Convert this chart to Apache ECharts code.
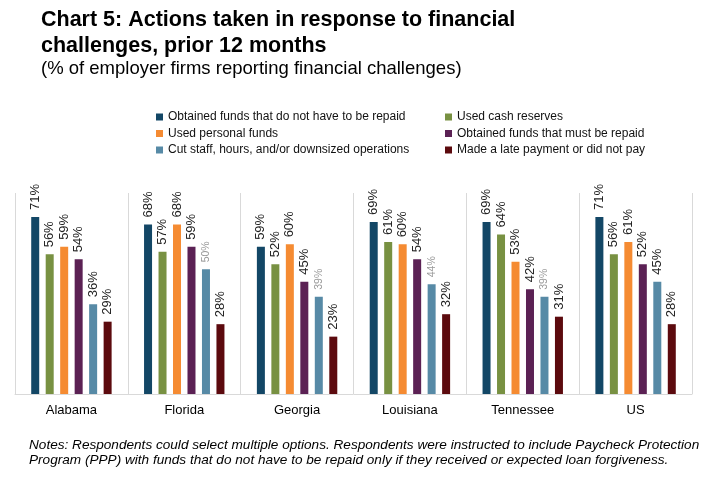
<!DOCTYPE html>
<html>
<head>
<meta charset="utf-8">
<title>Chart 5</title>
<script src="https://cdn.jsdelivr.net/npm/echarts@6/dist/echarts.min.js"></script>
<style>
  html, body { margin: 0; padding: 0; background: #fff; }
  #chart { width: 712px; height: 479px; }
</style>
</head>
<body>
<div id="chart"></div>
<script>
const states = ['Alabama', 'Florida', 'Georgia', 'Louisiana', 'Tennessee', 'US']

const seriesNames = [
  'Obtained funds that do not have to be repaid',
  'Used cash reserves',
  'Used personal funds',
  'Obtained funds that must be repaid',
  'Cut staff, hours, and/or downsized operations',
  'Made a late payment or did not pay'
]

const fundsNotRepaid = [71, 68, 59, 69, 69, 71]
const cashReserves = [56, 57, 52, 61, 64, 56]
const personalFunds = [59, 68, 60, 60, 53, 61]
const fundsRepaid = [54, 59, 45, 54, 42, 52]
const cutStaff = [36, 50, 39, 44, 39, 45]
const latePayment = [29, 28, 23, 32, 31, 28]

// labels shown small and grey in the original
const mutedCutStaff = ['Florida', 'Georgia', 'Louisiana', 'Tennessee']

const colors = ['#134766', '#789142', '#f58b32', '#5b2154', '#578aa6', '#5c0a0e']
const font = 'Liberation Sans, Arial, sans-serif'

const chart = echarts.init(document.getElementById('chart'))

const values = [fundsNotRepaid, cashReserves, personalFunds, fundsRepaid, cutStaff, latePayment]

const series = values.map((vals, i) => ({
  name: seriesNames[i],
  type: 'bar',
  barWidth: 8,
  barGap: '81%',
  itemStyle: { color: colors[i] },
  label: {
    show: true,
    position: 'top',
    rotate: 90,
    align: 'left',
    verticalAlign: 'middle',
    distance: 7,
    fontFamily: font,
    fontSize: 13,
    color: '#222',
    formatter: '{c}%'
  },
  data: vals.map((v, j) => {
    if (i === 4 && mutedCutStaff.includes(states[j])) {
      return { value: v, label: { fontSize: 10.5, color: '#999' } }
    }
    return v
  })
}))

const legendBase = {
  orient: 'vertical',
  icon: 'rect',
  padding: 0,
  itemWidth: 7,
  itemHeight: 7,
  itemGap: 2.5,
  top: 110,
  textStyle: { fontFamily: font, fontSize: 12, color: '#111', lineHeight: 14 },
  selectedMode: false
}

chart.setOption({
  animation: false,
  color: colors,
  title: [
    {
      text: 'Chart 5: Actions taken in response to financial\nchallenges, prior 12 months',
      left: 41,
      top: 7,
      padding: 0,
      textStyle: { fontFamily: font, fontSize: 21.5, fontWeight: 'bold', color: '#000', lineHeight: 26 }
    },
    {
      text: '(% of employer firms reporting financial challenges)',
      left: 41,
      top: 59,
      padding: 0,
      textStyle: { fontFamily: font, fontSize: 18.5, fontWeight: 'normal', color: '#000', lineHeight: 20 }
    },
    {
      text: 'Notes: Respondents could select multiple options. Respondents were instructed to include Paycheck Protection\nProgram (PPP) with funds that do not have to be repaid only if they received or expected loan forgiveness.',
      left: 29,
      top: 438,
      padding: 0,
      textStyle: { fontFamily: font, fontSize: 13.6, fontStyle: 'italic', fontWeight: 'normal', color: '#000', lineHeight: 15 }
    }
  ],
  legend: [
    Object.assign({}, legendBase, { left: 156, data: [seriesNames[0], seriesNames[2], seriesNames[4]] }),
    Object.assign({}, legendBase, { left: 445, data: [seriesNames[1], seriesNames[3], seriesNames[5]] })
  ],
  grid: { left: 15, right: 20, top: 193, bottom: 85 },
  xAxis: {
    type: 'category',
    data: states,
    axisLine: { lineStyle: { color: '#d9d9d9', width: 1 } },
    axisTick: { show: false },
    splitLine: { show: true, lineStyle: { color: '#d9d9d9', width: 1 } },
    axisLabel: { fontFamily: font, fontSize: 13, color: '#000', margin: 10 }
  },
  yAxis: {
    type: 'value',
    min: 0,
    max: 80.6,
    show: false,
    splitLine: { show: false }
  },
  series: series
})
</script>
</body>
</html>
